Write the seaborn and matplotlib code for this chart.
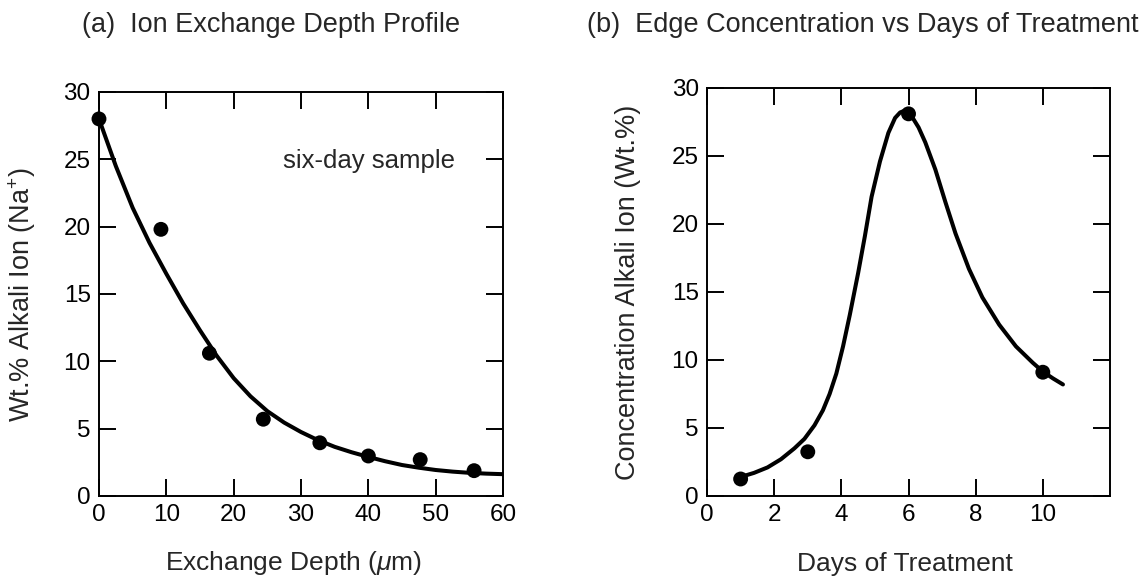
import matplotlib
matplotlib.use("Agg")
import matplotlib.pyplot as plt
import seaborn as sns
import pandas as pd

# (a) measured sodium content vs exchange depth, six-day sample
depth_um = [0.0, 9.2, 16.4, 24.4, 32.8, 40.0, 47.7, 55.7]
depth_wt = [28.0, 19.8, 10.6, 5.7, 3.95, 2.97, 2.7, 1.88]
# fitted profile through the measurements
fit_depth_um = [0, 2.5, 5, 7.5, 10, 12.5, 15, 17.5, 20, 22.5, 25, 27.5, 30, 32.5,
                35, 37.5, 40, 42.5, 45, 47.5, 50, 52.5, 55, 57.5, 60]
fit_depth_wt = [28.0, 24.5, 21.4, 18.8, 16.5, 14.3, 12.3, 10.4, 8.75, 7.4, 6.3,
                5.45, 4.75, 4.15, 3.65, 3.25, 2.9, 2.58, 2.3, 2.1, 1.93, 1.81,
                1.72, 1.66, 1.62]

# (b) edge concentration vs days of treatment
days = [1, 3, 6, 10]
edge_wt = [1.25, 3.25, 28.1, 9.1]
fit_days = [1.0, 1.4, 1.8, 2.2, 2.6, 2.9, 3.2, 3.45, 3.65, 3.85, 4.05, 4.25, 4.5,
            4.7, 4.9, 5.15, 5.4, 5.6, 5.75, 5.9, 6.1, 6.3, 6.5, 6.8, 7.1, 7.4,
            7.8, 8.2, 8.7, 9.2, 9.7, 10.0, 10.3, 10.6]
fit_edge_wt = [1.4, 1.7, 2.1, 2.7, 3.5, 4.2, 5.2, 6.3, 7.5, 9.0, 11.0, 13.3, 16.4,
               19.1, 22.0, 24.6, 26.7, 27.8, 28.2, 28.35, 27.9, 27.1, 26.0, 24.0,
               21.6, 19.3, 16.7, 14.6, 12.6, 11.0, 9.8, 9.15, 8.65, 8.2]

x_ticks_a = [0, 10, 20, 30, 40, 50, 60]
x_ticks_b = [0, 2, 4, 6, 8, 10]
y_ticks = [0, 5, 10, 15, 20, 25, 30]

sns.set_theme(style="ticks")
plt.rcParams["font.family"] = ["Liberation Sans", "DejaVu Sans"]
plt.rcParams["mathtext.fontset"] = "custom"
plt.rcParams["mathtext.rm"] = "Liberation Sans"
plt.rcParams["mathtext.it"] = "Liberation Sans:italic"

fig = plt.figure(figsize=(11.43, 5.77), dpi=100)
ax_a = fig.add_axes([0.0866, 0.1404, 0.3535, 0.7002])
ax_b = fig.add_axes([0.6186, 0.1404, 0.3525, 0.7071])

line_kw = dict(color="black", linewidth=2.9, solid_capstyle="round",
               solid_joinstyle="round", sort=False, estimator=None)
dot_kw = dict(color="black", s=115, edgecolor="none", zorder=5, clip_on=False)

df_a = pd.DataFrame({"x": fit_depth_um, "y": fit_depth_wt})
sns.lineplot(data=df_a, x="x", y="y", ax=ax_a, **line_kw)
sns.scatterplot(x=depth_um, y=depth_wt, ax=ax_a, **dot_kw)

df_b = pd.DataFrame({"x": fit_days, "y": fit_edge_wt})
sns.lineplot(data=df_b, x="x", y="y", ax=ax_b, **line_kw)
sns.scatterplot(x=days, y=edge_wt, ax=ax_b, **dot_kw)

ax_a.set_xlim(0, 60)
ax_b.set_xlim(0, 12)
ax_a.set_xticks(x_ticks_a)
ax_b.set_xticks(x_ticks_b)

for ax in (ax_a, ax_b):
    ax.set_ylim(0, 30)
    ax.set_yticks(y_ticks)
    ax.tick_params(direction="in", length=12, width=1.4, top=True, right=True,
                   labelsize=17.5, pad=6, colors="black")
    for sp in ax.spines.values():
        sp.set_linewidth(1.4)
        sp.set_color("black")
        sp.set_visible(True)

ax_a.text(27.3, 24.9, "six-day sample", fontsize=18.5, ha="left", va="center")

ax_a.set_xlabel(r"Exchange Depth ($\mu$m)", fontsize=19)
ax_a.set_ylabel(r"Wt.% Alkali Ion (Na$^{+}$)", fontsize=19.5)
ax_b.set_xlabel("Days of Treatment", fontsize=19)
ax_b.set_ylabel("Concentration Alkali Ion (Wt.%)", fontsize=19.5)
ax_a.xaxis.set_label_coords(0.48, -0.166)
ax_b.xaxis.set_label_coords(0.49, -0.166)
ax_a.yaxis.set_label_coords(-0.19, 0.5)
ax_b.yaxis.set_label_coords(-0.195, 0.5)
for ax in (ax_a, ax_b):
    ax.xaxis.label.set_va("center")
    ax.yaxis.label.set_va("center")

fig.text(82 / 1143, 1 - 25 / 577, "(a)  Ion Exchange Depth Profile",
         fontsize=19.5, ha="left", va="center")
fig.text(587 / 1143, 1 - 25 / 577, "(b)  Edge Concentration vs Days of Treatment",
         fontsize=19.5, ha="left", va="center")

fig.savefig("out.png", dpi=100, facecolor="white")
